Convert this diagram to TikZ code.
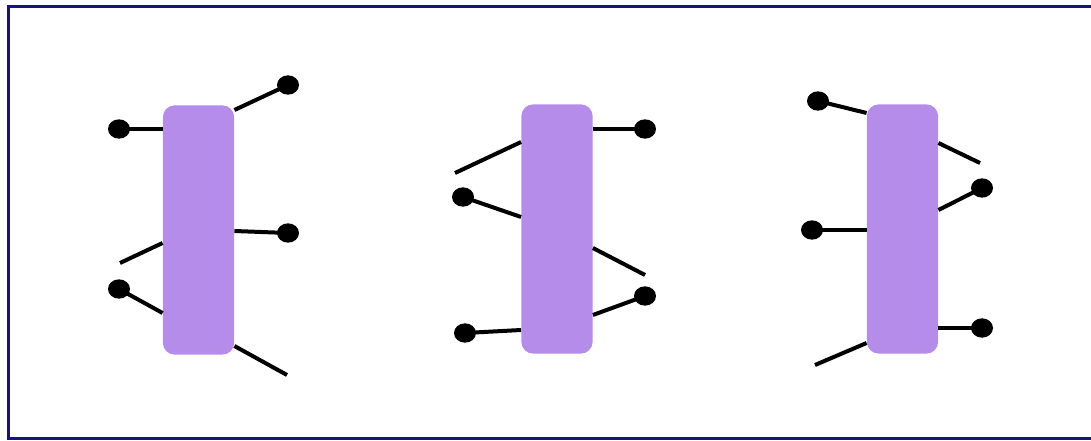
\documentclass[tikz,border=0pt]{standalone}
\usepackage{tikz}
\usetikzlibrary{shapes.geometric}
\definecolor{barpurple}{HTML}{B68CEB}
\definecolor{framenavy}{HTML}{15137E}
\tikzset{
  bar/.style={rectangle,rounded corners=9pt,fill=barpurple,inner sep=0pt,minimum width=53.5pt,minimum height=187pt},
  bead/.style={ellipse,fill=black,inner sep=0pt,minimum width=16.5pt,minimum height=14.5pt},
  lead/.style={black,line width=3pt},
  frame/.style={framenavy,line width=2.6pt}
}

\begin{document}
\begin{tikzpicture}[x=0.75pt,y=-0.75pt]
\useasboundingbox (0,0) rectangle (1091,441);
\clip (0,0) rectangle (1091,441);
\draw[frame] (1091,438.5) -- (8.5,438.5) -- (8.5,6.5) -- (1091,6.5);

% left bar
\node[bar] (b1) at (198.5,230) {};
\node[bead] (d1a) at (119,129) {};
\node[bead] (d1b) at (288,85) {};
\node[bead] (d1c) at (288,233) {};
\node[bead] (d1d) at (119,289) {};
\coordinate (f1a) at (120,263);
\coordinate (f1b) at (287,375);
\draw[lead] (d1a.center) -- (b1.west |- d1a);
\draw[lead] (b1.east |- 0,110) -- (d1b.center);
\draw[lead] (b1.east |- 0,231) -- (d1c.center);
\draw[lead] (b1.west |- 0,243) -- (f1a);
\draw[lead] (d1d.center) -- (b1.west |- 0,313);
\draw[lead] (b1.east |- 0,346) -- (f1b);

% middle bar
\node[bar] (b2) at (557,229) {};
\node[bead] (d2a) at (645,129) {};
\node[bead] (d2b) at (463,197) {};
\node[bead] (d2c) at (645,296) {};
\node[bead] (d2d) at (465,333) {};
\coordinate (f2a) at (455,173);
\coordinate (f2b) at (645,275);
\draw[lead] (b2.east |- d2a) -- (d2a.center);
\draw[lead] (b2.west |- 0,142) -- (f2a);
\draw[lead] (d2b.center) -- (b2.west |- 0,217);
\draw[lead] (b2.east |- 0,248) -- (f2b);
\draw[lead] (b2.east |- 0,315) -- (d2c.center);
\draw[lead] (d2d.center) -- (b2.west |- 0,330);

% right bar
\node[bar] (b3) at (902.5,229) {};
\node[bead] (d3a) at (818,101) {};
\node[bead] (d3b) at (982,188) {};
\node[bead] (d3c) at (812,230) {};
\node[bead] (d3d) at (982,328) {};
\coordinate (f3a) at (980,163);
\coordinate (f3b) at (815,365);
\draw[lead] (d3a.center) -- (b3.west |- 0,113);
\draw[lead] (b3.east |- 0,143) -- (f3a);
\draw[lead] (b3.east |- 0,210) -- (d3b.center);
\draw[lead] (d3c.center) -- (b3.west |- d3c);
\draw[lead] (b3.east |- d3d) -- (d3d.center);
\draw[lead] (b3.west |- 0,343) -- (f3b);
\end{tikzpicture}
\end{document}
